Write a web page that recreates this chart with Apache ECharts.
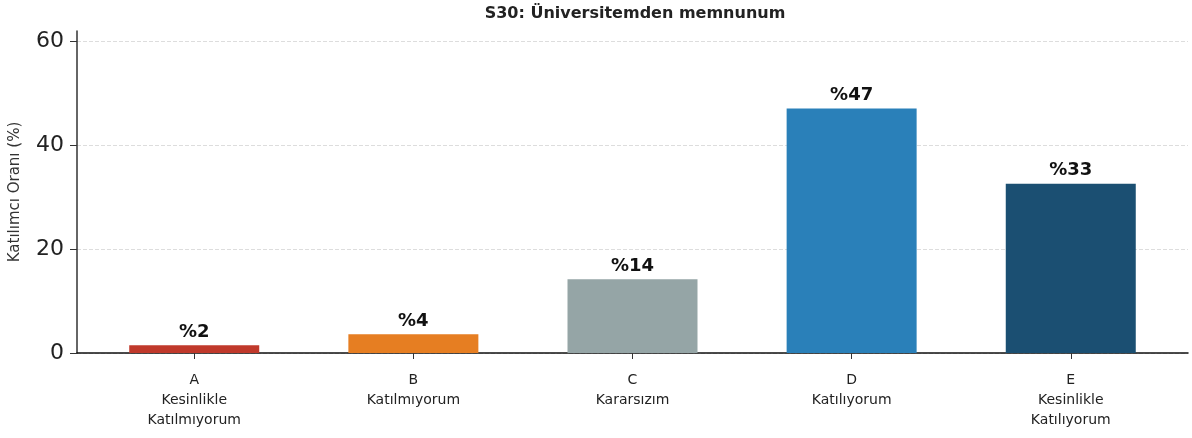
<!DOCTYPE html>
<html>
<head>
<meta charset="utf-8">
<script src="https://cdn.jsdelivr.net/npm/echarts@6/dist/echarts.min.js"></script>
<style>
  html, body { margin: 0; padding: 0; background: #fff; }
  #main { width: 1192px; height: 438px; }
</style>
</head>
<body>
<div id="main"></div>
<script>
        var categories = ['A\nKesinlikle\nKatılmıyorum', 'B\nKatılmıyorum', 'C\nKararsızım', 'D\nKatılıyorum', 'E\nKesinlikle\nKatılıyorum'];
        var percents = [1.5, 3.6, 14.2, 47.1, 32.6];
        var barColors = ['#c0392b', '#e67e22', '#95a5a6', '#2a80b9', '#1b4f72'];
        var yTicks = [0, 20, 40, 60];
        var catIndex = [0, 1, 2, 3, 4];

        var myChart = echarts.init(document.getElementById('main'));

        var barData = percents.map(function (v, i) {
            return {
                value: [i, v],
                itemStyle: { color: barColors[i] }
            };
        });

        var option = {
            animation: false,
            textStyle: { fontFamily: 'DejaVu Sans' },
            title: {
                text: 'S30: Üniversitemden memnunum',
                left: 630,
                textAlign: 'center',
                top: 1,
                textStyle: { fontSize: 16, fontWeight: 'bold', color: '#222', fontFamily: 'DejaVu Sans' }
            },
            grid: {
                left: 77,
                right: 4,
                top: 31,
                bottom: 85
            },
            xAxis: {
                type: 'value',
                min: -0.535,
                max: 4.535,
                axisLine: { show: true, onZero: false, lineStyle: { color: '#111', width: 1.5 } },
                axisTick: { show: true, customValues: catIndex, length: 6, lineStyle: { color: '#333' } },
                axisLabel: {
                    customValues: catIndex,
                    formatter: function (v) { return categories[Math.round(v)]; },
                    fontSize: 14,
                    lineHeight: 20,
                    color: '#222',
                    margin: 17
                },
                splitLine: { show: false }
            },
            yAxis: {
                type: 'value',
                name: 'Katılımcı Oranı (%)',
                nameLocation: 'middle',
                nameGap: 54,
                nameTextStyle: { fontSize: 15, color: '#333' },
                min: 0,
                max: 62,
                axisLabel: {
                    customValues: yTicks,
                    fontSize: 22,
                    color: '#222',
                    margin: 13
                },
                axisTick: { show: true, customValues: yTicks, length: 7, lineStyle: { color: '#333' } },
                axisLine: { show: true, onZero: false, lineStyle: { color: '#333', width: 1.5 } },
                splitLine: {
                    show: true,
                    customValues: yTicks,
                    lineStyle: { color: '#ddd', type: 'dashed', width: 1 }
                }
            },
            series: [
                {
                    type: 'bar',
                    barWidth: 130,
                    data: barData,
                    label: {
                        show: true,
                        position: 'top',
                        distance: 4,
                        formatter: function (p) { return '%' + Math.round(p.value[1]); },
                        fontSize: 18,
                        fontWeight: 'bold',
                        color: '#111'
                    }
                }
            ]
        };

        myChart.setOption(option);
</script>
</body>
</html>
